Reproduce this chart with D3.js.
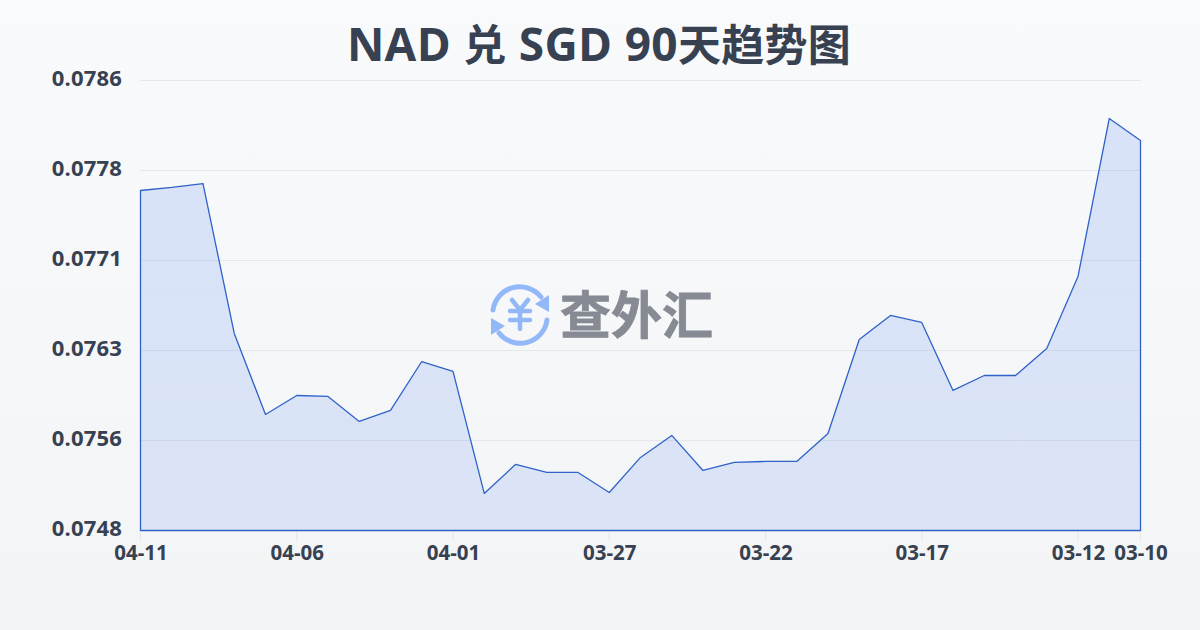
<!DOCTYPE html>
<html><head><meta charset="utf-8">
<script src="https://cdn.jsdelivr.net/npm/d3@7/dist/d3.min.js"></script>
<style>
html,body{margin:0;padding:0;width:1200px;height:630px;overflow:hidden}
text{font-family:"Open Sans","Noto Sans CJK SC",sans-serif}
</style></head><body>
<svg id="c" width="1200" height="630" xmlns="http://www.w3.org/2000/svg"></svg>
<script>
const titleParts = ["NAD ","兑"," SGD 90","天趋势图"];
const dates = ["04-11","04-10","04-09","04-08","04-07","04-06","04-05","04-04","04-03","04-02","04-01","03-31","03-30","03-29","03-28","03-27","03-26","03-25","03-24","03-23","03-22","03-21","03-20","03-19","03-18","03-17","03-16","03-15","03-14","03-13","03-12","03-11","03-10"];
const rates = [0.077671,0.077697,0.07773,0.076464,0.07578,0.07594,0.075932,0.075721,0.075814,0.076227,0.076143,0.075113,0.075358,0.07529,0.07529,0.075121,0.075417,0.075603,0.075307,0.075375,0.075383,0.075383,0.075619,0.076413,0.076616,0.076557,0.075983,0.076109,0.076109,0.076337,0.076945,0.078279,0.078094];
const xTickLabels = ["04-11","04-06","04-01","03-27","03-22","03-17","03-12","03-10"];
const yTicks = [0.0786,0.07784,0.07708,0.07632,0.07556,0.0748];
const watermark = "查外汇";

const svg = d3.select("#c");
const defs = svg.append("defs");
const bg = defs.append("linearGradient").attr("id","bg").attr("x1",0).attr("y1",0).attr("x2",0).attr("y2",1);
bg.append("stop").attr("offset",0).attr("stop-color","#f8fafc");
bg.append("stop").attr("offset",1).attr("stop-color","#f3f4f6");
svg.append("rect").attr("width",1200).attr("height",630).attr("fill","url(#bg)");

const x = d3.scalePoint().domain(dates).range([140.5,1140.5]);
const y = d3.scaleLinear().domain([0.0748,0.0786]).range([530.5,80.5]);

const fillG = defs.append("linearGradient").attr("id","fillG").attr("gradientUnits","userSpaceOnUse")
  .attr("x1",0).attr("x2",0).attr("y1",y(d3.max(rates))).attr("y2",y(0.0748));
fillG.append("stop").attr("offset",0).attr("stop-color","#2563eb").attr("stop-opacity",0.15);
fillG.append("stop").attr("offset",1).attr("stop-color","#2563eb").attr("stop-opacity",0.12);

const title = svg.append("text").attr("x",599).attr("y",61).attr("text-anchor","middle")
  .attr("font-weight",700).attr("fill","#374151").attr("letter-spacing",0.3);
title.selectAll("tspan").data(titleParts).join("tspan")
  .attr("font-size",(d,i)=>i%2?43:46).text(d=>d);

// grid
svg.append("g").selectAll("line").data(yTicks).join("line")
  .attr("x1",140).attr("x2",1141).attr("y1",d=>y(d)).attr("y2",d=>y(d))
  .attr("stroke","#e5e7eb").attr("stroke-width",1);

// y labels
svg.append("g").selectAll("text").data(yTicks).join("text")
  .attr("x",122).attr("y",d=>y(d)+5.5).attr("text-anchor","end")
  .attr("font-size",22).attr("font-weight",700).attr("fill","#374151").attr("letter-spacing",0.2)
  .text(d=>d3.format(".4f")(d));

// x ticks
const xg = svg.append("g");
xg.selectAll("line").data(xTickLabels).join("line")
  .attr("x1",d=>x(d)).attr("x2",d=>x(d)).attr("y1",530).attr("y2",541)
  .attr("stroke","#e5e7eb");
xg.selectAll("text").data(xTickLabels).join("text")
  .attr("x",d=>x(d)+0.5).attr("y",560).attr("text-anchor","middle")
  .attr("font-size",20.5).attr("font-weight",700).attr("fill","#374151").text(d=>d);

// watermark
const wm = svg.append("g");
const ic = wm.append("g").attr("transform","translate(520,315)").attr("fill","none").attr("stroke","#93b8f8").attr("stroke-linecap","round");
ic.append("path").attr("d","M-27,-5 A27,27 0 0 1 21,-18").attr("stroke-width",5);
ic.append("path").attr("d","M27,5 A27,27 0 0 1 -21,18").attr("stroke-width",5);
ic.append("path").attr("d","M29,-20 L29,-3 L15,-11 Z").attr("fill","#93b8f8").attr("stroke","none");
ic.append("path").attr("d","M-29,20 L-29,3 L-15,11 Z").attr("fill","#93b8f8").attr("stroke","none");
ic.append("path").attr("d","M-8,-15 L0,-5 L8,-15 M-10,-4 L10,-4 M-10,5 L10,5 M0,-5 L0,14").attr("stroke-width",4.5);
wm.append("text").attr("x",560).attr("y",334).attr("font-size",51).attr("font-weight",700)
  .attr("fill","#868a93").attr("stroke","#868a93").attr("stroke-width",0.8).style("font-family",'"Noto Sans CJK SC"').text(watermark);

// area + line
const pts = dates.map((d,i)=>({d,v:rates[i]}));
const area = d3.area().x(p=>x(p.d)).y0(y(0.0748)).y1(p=>y(p.v));
svg.append("path").datum(pts).attr("d",area)
  .attr("fill","url(#fillG)")
  .attr("stroke","#2f62c9").attr("stroke-width",1.3).attr("stroke-linejoin","round");
</script>
</body></html>
